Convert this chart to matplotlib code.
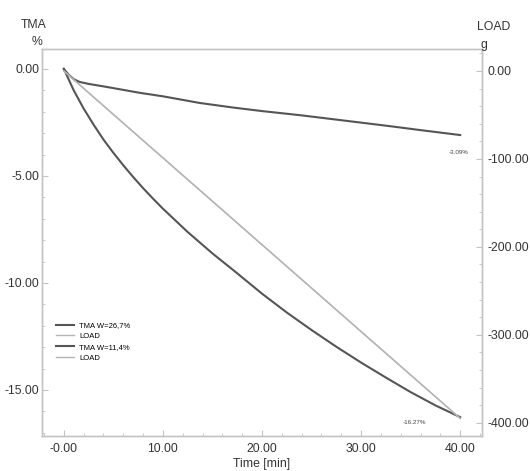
import matplotlib
matplotlib.use("Agg")
import matplotlib.pyplot as plt
from matplotlib.ticker import MultipleLocator

plt.rcParams['font.family'] = ['Liberation Sans', 'DejaVu Sans']

# data
t_267 = [0, 0.5, 1.0, 1.6, 2.5, 4.3, 7.7, 10, 13.7, 17, 20, 23.8, 27, 30, 33, 36, 40]
tma_267 = [0, -0.28, -0.48, -0.61, -0.70, -0.84, -1.12, -1.28, -1.59, -1.80, -1.97, -2.16, -2.34, -2.51, -2.68, -2.86, -3.09]

t_114 = [0, 1, 2, 3, 4, 5, 6, 7, 8, 9, 10, 12.5, 15, 17.5, 20, 22.5, 25, 27.5, 30, 32.5, 35, 37.5, 40]
tma_114 = [0, -1.0, -1.85, -2.6, -3.3, -3.92, -4.5, -5.05, -5.57, -6.06, -6.53, -7.62, -8.62,
           -9.55, -10.5, -11.38, -12.2, -12.98, -13.72, -14.42, -15.1, -15.72, -16.27]

t_load = [0, 40]
load_1 = [0, -395]
load_2 = [0, -395]

labels = ['TMA W=26,7%', 'LOAD', 'TMA W=11,4%', 'LOAD']
x_ticks = [0, 10, 20, 30, 40]
x_ticklabels = ['-0.00', '10.00', '20.00', '30.00', '40.00']
end_notes = ['-3.09%', '-16.27%']

dark = '#555555'
light = '#b4b4b4'
spine_c = '#c4c4c4'
txt_c = '#333333'
fs = 8.8

fig = plt.figure(figsize=(5.30, 4.71), dpi=100)
ax = fig.add_axes([42/530, 1-436/471, 440/530, 387/471])
ax2 = ax.twinx()

l1, = ax.plot(t_267, tma_267, color=dark, lw=1.5)
l3, = ax.plot(t_114, tma_114, color=dark, lw=1.5)
l2, = ax2.plot(t_load, load_1, color=light, lw=1.0)
l4, = ax2.plot(t_load, load_2, color=light, lw=1.0)

ax.set_xlim(-2.2, 42.2)
ax.set_ylim(-17.15, 0.93)
ax2.set_ylim(-415, 25)

ax.set_xticks(x_ticks)
ax.set_xticklabels(x_ticklabels)
ax.xaxis.set_minor_locator(MultipleLocator(2))
ax.set_yticks([0, -5, -10, -15])
ax.set_yticklabels(['0.00', '-5.00', '-10.00', '-15.00'])
ax.yaxis.set_minor_locator(MultipleLocator(1))
ax2.set_yticks([0, -100, -200, -300, -400])
ax2.set_yticklabels(['0.00', '-100.00', '-200.00', '-300.00', '-400.00'])
ax2.yaxis.set_minor_locator(MultipleLocator(20))

for a in (ax, ax2):
    for s in a.spines.values():
        s.set_color(spine_c)
        s.set_linewidth(1.0)
    a.tick_params(which='both', direction='in', color=spine_c, labelsize=fs, labelcolor=txt_c)
    a.tick_params(which='major', length=4)
    a.tick_params(which='minor', length=2)
ax.tick_params(axis='x', pad=5)
ax.tick_params(axis='y', pad=2)
ax2.tick_params(axis='y', pad=4)

ax.set_xlabel('Time [min]', fontsize=fs, color=txt_c, labelpad=2)

fig.text(34/530, 1-25/471, 'TMA', ha='center', va='center', fontsize=fs, color=txt_c)
fig.text(37/530, 1-42/471, '%', ha='center', va='center', fontsize=fs, color=txt_c)
fig.text(494/530, 1-27/471, 'LOAD', ha='center', va='center', fontsize=fs, color=txt_c)
fig.text(484/530, 1-45/471, 'g', ha='center', va='center', fontsize=fs, color=txt_c)

ax.annotate(end_notes[0], (t_267[-1], tma_267[-1]), xytext=(-2, -17),
            textcoords='offset pixels', ha='center', va='center', fontsize=4.5, color='#444444')
ax.annotate(end_notes[1], (t_114[-1], tma_114[-1]), xytext=(-46, -5),
            textcoords='offset pixels', ha='center', va='center', fontsize=4.5, color='#444444')

fig.legend([l1, l2, l3, l4], labels, loc='upper left',
           bbox_to_anchor=(56/530, 1-322/471), bbox_transform=fig.transFigure,
           frameon=False, fontsize=5.5, handlelength=2.4, handletextpad=0.6,
           labelspacing=0.45, borderpad=0, borderaxespad=0)

fig.savefig('out.png', dpi=100)
